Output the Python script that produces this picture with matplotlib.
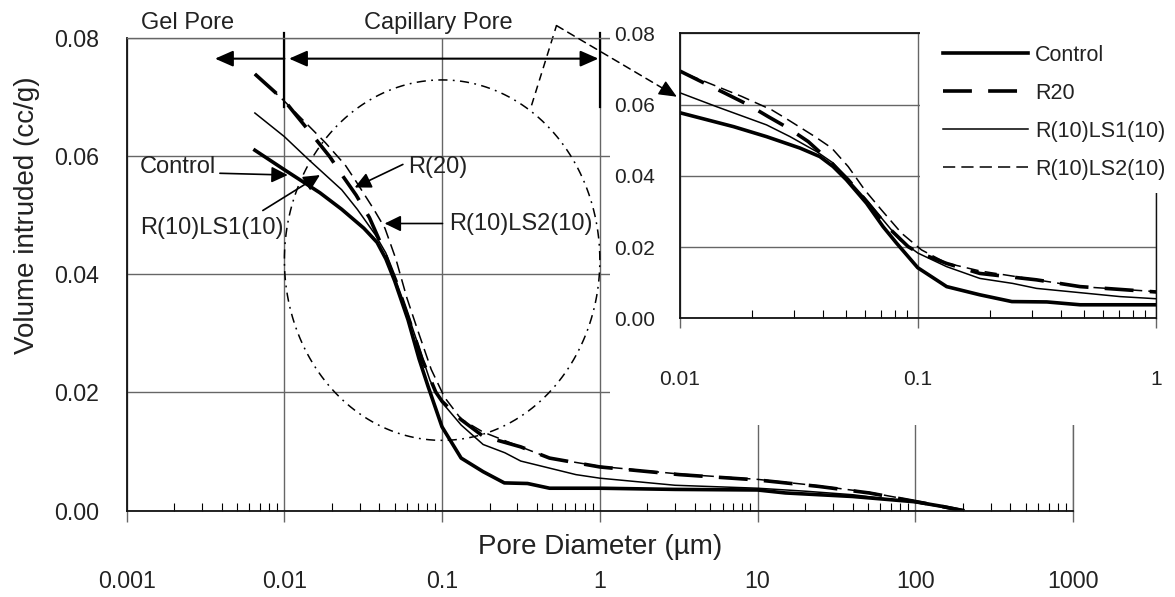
import numpy as np
import matplotlib
import matplotlib.pyplot as plt
from matplotlib.patches import Rectangle, ConnectionPatch
from matplotlib.ticker import FixedLocator, FixedFormatter, LogLocator, NullFormatter
matplotlib.use('Agg')

plt.rcParams['font.family'] = ['Liberation Sans', 'DejaVu Sans']

# pore diameter (um) / volume intruded (cc/g)
control_x = [0.0065, 0.01, 0.0168, 0.0231, 0.0319, 0.0387, 0.044, 0.050, 0.0608, 0.0714, 0.0813,
             0.0998, 0.132, 0.182, 0.248, 0.348, 0.48, 1.0, 3.0, 10, 15, 40, 100, 150, 200]
control_y = [0.0610, 0.0577, 0.0538, 0.0510, 0.0478, 0.0454, 0.0426, 0.0389, 0.0323, 0.0257, 0.0211,
             0.0142, 0.0089, 0.0066, 0.0047, 0.0046, 0.0038, 0.0038, 0.0036, 0.0035, 0.0030, 0.0024,
             0.0015, 0.0007, 0.0]

r20_x = [0.0065, 0.01, 0.0119, 0.01545, 0.0194, 0.0235, 0.0285, 0.0346, 0.042, 0.0509, 0.0618, 0.0745,
         0.091, 0.1, 0.132, 0.182, 0.315, 0.48, 1.0, 3.2, 10, 24.5, 51, 98, 204]
r20_y = [0.0739, 0.0694, 0.0669, 0.0632, 0.0599, 0.0566, 0.0534, 0.0496, 0.0445, 0.0389, 0.0323, 0.0257,
         0.0201, 0.0185, 0.0154, 0.0126, 0.0108, 0.0089, 0.0074, 0.0061, 0.0052, 0.0041, 0.0030,
         0.0016, 0.0]

ls1_x = [0.0065, 0.01, 0.01426, 0.0231, 0.029, 0.0375, 0.044, 0.0518, 0.0608, 0.0714, 0.0839, 0.1,
         0.132, 0.182, 0.25, 0.315, 0.48, 0.706, 1.0, 3.0, 10, 20, 40, 100, 200]
ls1_y = [0.0673, 0.0633, 0.0594, 0.0543, 0.0510, 0.0468, 0.0436, 0.0384, 0.0332, 0.0276, 0.0220, 0.0183,
         0.0145, 0.0112, 0.0098, 0.0084, 0.0072, 0.0061, 0.0055, 0.0043, 0.0038, 0.0033, 0.0027,
         0.0014, 0.0]

ls2_x = [0.0065, 0.01, 0.01815, 0.0243, 0.0285, 0.0369, 0.0434, 0.0509, 0.0598, 0.0703, 0.0853, 0.1035,
         0.132, 0.182, 0.315, 0.48, 1.0, 3.2, 10, 24.5, 51, 98, 204]
ls2_y = [0.0739, 0.0693, 0.0623, 0.0585, 0.0557, 0.0510, 0.0478, 0.0426, 0.0360, 0.0304, 0.0239, 0.0192,
         0.0155, 0.0133, 0.0108, 0.0089, 0.0075, 0.0062, 0.0053, 0.0042, 0.0031, 0.0017, 0.0]

main_ticks = [0.001, 0.01, 0.1, 1, 10, 100, 1000]
main_tick_labels = ['0.001', '0.01', '0.1', '1', '10', '100', '1000']
inset_ticks = [0.01, 0.1, 1]
inset_tick_labels = ['0.01', '0.1', '1']
y_ticks = [0.0, 0.02, 0.04, 0.06, 0.08]

series = [
    ('Control', control_x, control_y, dict(color='black', lw=2.6, ls='-')),
    ('R20', r20_x, r20_y, dict(color='black', lw=2.6, dashes=(8, 4.5))),
    ('R(10)LS1(10)', ls1_x, ls1_y, dict(color='black', lw=1.1, ls='-')),
    ('R(10)LS2(10)', ls2_x, ls2_y, dict(color='black', lw=1.1, dashes=(8, 4))),
]

grid_col = '#666666'
txt_col = '#222222'

fig = plt.figure(figsize=(11.75, 5.97), dpi=100)

# ---------------- main axes ----------------
ax = fig.add_axes([0.1078, 0.1446, 0.8054, 0.7918])
ax.set_zorder(0)
for name, xs, ys, st in series:
    ax.plot(xs, ys, **st)

ax.set_xscale('log')
ax.set_xlim(0.001, 1000)
ax.set_ylim(0, 0.08)
ax.xaxis.set_major_locator(FixedLocator(main_ticks))
ax.xaxis.set_major_formatter(FixedFormatter(main_tick_labels))
ax.xaxis.set_minor_locator(LogLocator(base=10, subs=np.arange(2, 10)))
ax.xaxis.set_minor_formatter(NullFormatter())
ax.set_yticks(y_ticks)
ax.set_yticklabels([f'{v:.2f}' for v in y_ticks])
ax.grid(True, which='major', color=grid_col, lw=1.0)
ax.tick_params(axis='x', which='major', direction='out', length=8, width=1, color=grid_col,
               pad=35, labelsize=16.7, labelcolor=txt_col)
ax.tick_params(axis='x', which='minor', direction='in', length=6, width=0.8, color='black')
ax.tick_params(axis='y', length=0, pad=20, labelsize=16.7, labelcolor=txt_col)
for s in ['left', 'bottom']:
    ax.spines[s].set_linewidth(1.3)
    ax.spines[s].set_color('#111111')
for s in ['top', 'right']:
    ax.spines[s].set_linewidth(1.0)
    ax.spines[s].set_color(grid_col)

ax.set_xlabel('Pore Diameter (µm)', fontsize=20, color=txt_col)
ax.xaxis.set_label_coords(0.5, -0.05)
ax.text(-0.1048, 0.6255, 'Volume intruded (cc/g)', rotation=90, ha='center', va='center',
        fontsize=20, color=txt_col, transform=ax.transAxes)

# pore class markers
ax.plot([0.01, 0.01], [0.0684, 0.0808], color='black', lw=1.6, clip_on=False)
ax.plot([1, 1], [0.0684, 0.0808], color='black', lw=1.6, clip_on=False)
head = dict(color='black', lw=1.5, mutation_scale=22, shrinkA=0, shrinkB=0)
ax.annotate('', xy=(0.00363, 0.0765), xytext=(0.01, 0.0765), annotation_clip=False,
            arrowprops=dict(arrowstyle='-|>,head_length=0.5,head_width=0.22', **head))
ax.annotate('', xy=(0.98, 0.0765), xytext=(0.0107, 0.0765), annotation_clip=False,
            arrowprops=dict(arrowstyle='<|-|>,head_length=0.5,head_width=0.22', **head))
ax.text(0.00245, 0.0826, 'Gel Pore', ha='center', va='center', fontsize=17, color=txt_col, clip_on=False)
ax.text(0.094, 0.0826, 'Capillary Pore', ha='center', va='center', fontsize=17, color=txt_col, clip_on=False)

# curve labels
arr = dict(arrowstyle='-|>,head_length=0.45,head_width=0.22', color='black', lw=1.2,
           mutation_scale=22, shrinkA=0, shrinkB=0)
ax.text(0.00121, 0.0581, 'Control', ha='left', va='center', fontsize=17, color=txt_col)
ax.annotate('', xy=(0.0105, 0.0568), xytext=(0.0039, 0.0571), arrowprops=arr)
ax.text(0.00121, 0.0478, 'R(10)LS1(10)', ha='left', va='center', fontsize=17, color=txt_col)
ax.annotate('', xy=(0.0168, 0.0568), xytext=(0.0073, 0.0508), arrowprops=arr)
ax.text(0.0605, 0.0581, 'R(20)', ha='left', va='center', fontsize=17, color=txt_col)
ax.annotate('', xy=(0.0279, 0.0547), xytext=(0.0564, 0.0586), arrowprops=arr)
ax.text(0.1115, 0.0486, 'R(10)LS2(10)', ha='left', va='center', fontsize=17, color=txt_col)
ax.annotate('', xy=(0.0432, 0.0486), xytext=(0.1006, 0.0486), arrowprops=arr)

# zoom ellipse (log-x space)
t = np.linspace(0, 2 * np.pi, 400)
ax.plot(10 ** (-1.0 + 1.0 * np.cos(t)), 0.0424 + 0.0305 * np.sin(t), color='black', lw=1.1,
        dashes=(6, 3.5, 1.2, 3.5), clip_on=False)
ax.plot([0.369, 0.531], [0.0686, 0.0821], color='black', lw=1.1, dashes=(5, 3.5), clip_on=False)

# white panel behind the inset
fig.patches.append(Rectangle((0.519, 0.288), 0.481, 0.712, transform=fig.transFigure,
                             facecolor='white', edgecolor='none', zorder=1))

# ---------------- inset axes ----------------
axin = fig.add_axes([0.5787, 0.4668, 0.4051, 0.4774])
axin.set_zorder(2)
for name, xs, ys, st in series:
    axin.plot(xs, ys, label=name, **st)
axin.set_xscale('log')
axin.set_xlim(0.01, 1)
axin.set_ylim(0, 0.08)
axin.xaxis.set_major_locator(FixedLocator(inset_ticks))
axin.xaxis.set_major_formatter(FixedFormatter(inset_tick_labels))
axin.xaxis.set_minor_locator(LogLocator(base=10, subs=np.arange(2, 10)))
axin.xaxis.set_minor_formatter(NullFormatter())
axin.set_yticks(y_ticks)
axin.set_yticklabels([f'{v:.2f}' for v in y_ticks])
axin.grid(True, which='major', color=grid_col, lw=1.0)
axin.tick_params(axis='x', which='major', direction='out', length=7, width=1, color=grid_col,
                 pad=30, labelsize=15, labelcolor=txt_col)
axin.tick_params(axis='x', which='minor', direction='in', length=6, width=0.8, color='black')
axin.tick_params(axis='y', length=0, pad=18, labelsize=15, labelcolor=txt_col)
for s in ['left', 'bottom', 'top']:
    axin.spines[s].set_linewidth(1.3)
    axin.spines[s].set_color('#111111')
axin.spines['right'].set_color('#111111')
axin.spines['right'].set_linewidth(1.0)

# blank area holding the legend
axin.add_patch(Rectangle((0.504, 0.44), 0.6, 0.7, transform=axin.transAxes, facecolor='white',
                         edgecolor='none', zorder=3, clip_on=False))
leg = axin.legend(loc='upper left', bbox_to_anchor=(0.8026, 0.9246), bbox_transform=fig.transFigure,
                  frameon=False, fontsize=15.5, handlelength=3.95, handletextpad=0.32,
                  labelspacing=0.79, borderpad=0, borderaxespad=0)
leg.set_zorder(5)
for txt in leg.get_texts():
    txt.set_color(txt_col)

# dashed connector to the inset
con = ConnectionPatch(xyA=(0.531, 0.0821), coordsA=ax.transData, xyB=(0.0085, 0.0645),
                      coordsB=axin.transData, color='black', lw=1.1, linestyle=(0, (5, 3.5)), zorder=4)
fig.add_artist(con)
axin.annotate('', xy=(0.0097, 0.0622), xytext=(0.0085, 0.0645), annotation_clip=False,
              arrowprops=dict(arrowstyle='-|>,head_length=0.5,head_width=0.22', color='black',
                              lw=1.0, mutation_scale=22, shrinkA=0, shrinkB=0))

plt.savefig('out.png', dpi=100)
plt.close()
